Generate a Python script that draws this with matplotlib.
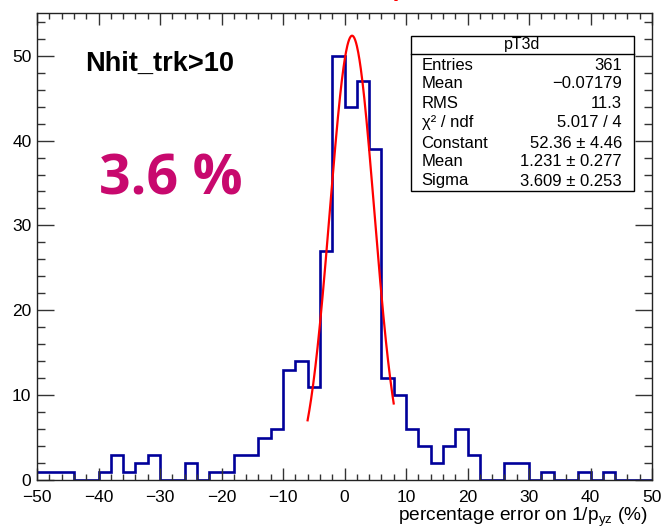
import numpy as np
import matplotlib
matplotlib.use("Agg")
import matplotlib.pyplot as plt
from matplotlib.ticker import MultipleLocator

plt.rcParams["font.family"] = ["Liberation Sans", "DejaVu Sans"]
plt.rcParams["mathtext.fontset"] = "custom"
plt.rcParams["mathtext.rm"] = "Liberation Sans"
plt.rcParams["mathtext.it"] = "Liberation Sans:italic"

# Histogram pT3d: 50 bins of width 2 from -50 to 50
bin_edges = list(range(-50, 52, 2))
counts = [1, 1, 1, 0, 0, 1, 3, 1, 2, 3,
          0, 0, 2, 0, 1, 1, 3, 3, 5, 6,
          13, 14, 11, 27, 50, 44, 47, 39, 12, 10,
          6, 4, 2, 4, 6, 3, 0, 0, 2, 2,
          0, 1, 0, 0, 1, 0, 1, 0, 0, 0]

# Gaussian fit results
fit_constant = 52.36
fit_mean = 1.231
fit_sigma = 3.609
fit_range = (-6.0, 8.0)

stat_labels = ["Entries", "Mean", "RMS", "\u03c7\u00b2 / ndf", "Constant", "Mean", "Sigma"]
stat_values = ["361", "\u22120.07179", "11.3", "5.017 / 4",
               "52.36 \u00b1 4.46", "1.231 \u00b1 0.277", "3.609 \u00b1 0.253"]

W, H = 662, 530
fig = plt.figure(figsize=(W / 100, H / 100), dpi=100)
ax = fig.add_axes([37 / W, 1 - 480 / H, (652 - 37) / W, (480 - 13.3) / H])

ax.stairs(counts, bin_edges, color="#00009a", linewidth=1.9, baseline=None)

xf = np.linspace(fit_range[0], fit_range[1], 200)
yf = fit_constant * np.exp(-0.5 * ((xf - fit_mean) / fit_sigma) ** 2)
ax.plot(xf, yf, color="#ff0000", linewidth=1.6)

ax.set_xlim(-50, 50)
ax.set_ylim(0, 55)
ax.xaxis.set_major_locator(MultipleLocator(10))
ax.xaxis.set_minor_locator(MultipleLocator(2))
ax.yaxis.set_major_locator(MultipleLocator(10))
ax.yaxis.set_minor_locator(MultipleLocator(2))
ax.tick_params(axis="x", which="both", direction="in", top=True, bottom=True,
               labelsize=12.5, pad=7, color="#333333", width=1.0)
ax.tick_params(axis="x", which="major", length=8.6)
ax.tick_params(axis="x", which="minor", length=4.3)
ax.tick_params(axis="y", which="both", direction="in", left=True, right=True,
               labelsize=12.5, pad=4, color="#333333", width=1.0)
ax.tick_params(axis="y", which="major", length=12.2)
ax.tick_params(axis="y", which="minor", length=5.8)
for sp in ax.spines.values():
    sp.set_linewidth(1.0)
    sp.set_color("#222222")

# axis title, right aligned as in ROOT
fig.text(648 / W, 1 - 517 / H, r"percentage error on 1/p$_{\mathrm{yz}}$ (%)",
         ha="right", va="center", fontsize=13.8)

# annotations
fig.text(85 / W, 1 - 64 / H, "Nhit_trk>10", fontsize=19.5, fontweight="bold",
         ha="left", va="center")
fig.text(99 / W, 1 - 180 / H, "3.6 %", fontsize=40, fontweight="bold",
         family=["Open Sans", "DejaVu Sans"], color="#c8096e",
         ha="left", va="center")

# red title stroke, mostly above the top edge
fig.text(394 / W, 1 - 6 / H, "/", fontsize=20, fontweight="bold",
         color="red", ha="left", va="bottom")

# statistics box
bx0, bx1, by0, by1, bsep = 411, 634, 35.7, 191, 54.3
box = plt.Rectangle((bx0 / W, 1 - by1 / H), (bx1 - bx0) / W, (by1 - by0) / H,
                    transform=fig.transFigure, facecolor="white",
                    edgecolor="black", linewidth=1.0, zorder=5)
fig.add_artist(box)
fig.add_artist(plt.Line2D([bx0 / W, bx1 / W], [1 - bsep / H, 1 - bsep / H],
                          transform=fig.transFigure, color="black",
                          linewidth=1.0, zorder=6))
fig.text((bx0 + bx1) / 2 / W, 1 - 45 / H, "pT3d", ha="center", va="center",
         fontsize=11.5, zorder=7)
row_y = [65, 84, 103.5, 122.5, 143, 162, 181]
for lab, val, ry in zip(stat_labels, stat_values, row_y):
    fig.text(421.5 / W, 1 - ry / H, lab, ha="left", va="center",
             fontsize=12, zorder=7)
    fig.text(622 / W, 1 - ry / H, val, ha="right", va="center",
             fontsize=12, zorder=7)

fig.savefig("out.png", dpi=100)
